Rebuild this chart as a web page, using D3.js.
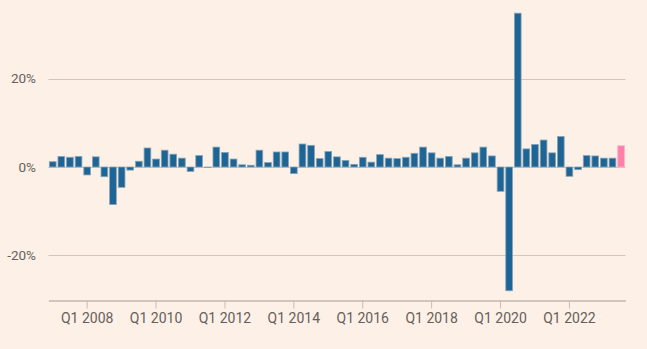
<!DOCTYPE html>
<html>
<head>
<meta charset="utf-8">
<script src="https://cdn.jsdelivr.net/npm/d3@7"></script>
<style>
  html, body { margin: 0; padding: 0; background: #fdf0e6; }
  svg { display: block; }
  text { font-family: Roboto, Lato, sans-serif; }
</style>
</head>
<body>
<svg id="chart" width="647" height="349"></svg>
<script>
// Quarterly real GDP growth, annualised (%), Q1 2007 – Q3 2023
const years = d3.range(2007, 2024);
const quarters = years.flatMap(y => [1, 2, 3, 4].map(q => `Q${q} ${y}`)).slice(0, 67);

const growth = [
  1.2, 2.4, 2.2, 2.4,      // 2007
  -1.8, 2.3, -2.2, -8.5,   // 2008
  -4.6, -0.7, 1.3, 4.3,    // 2009
  1.8, 3.8, 2.9, 2.0,      // 2010
  -1.0, 2.6, -0.1, 4.5,    // 2011
  3.3, 1.8, 0.5, 0.4,      // 2012
  3.8, 1.0, 3.4, 3.4,      // 2013
  -1.5, 5.2, 4.9, 1.9,     // 2014
  3.5, 2.3, 1.5, 0.6,      // 2015
  2.2, 1.1, 2.8, 2.0,      // 2016
  1.9, 2.2, 3.1, 4.5,      // 2017
  3.2, 2.0, 2.4, 0.5,      // 2018
  2.0, 3.2, 4.5, 2.5,      // 2019
  -5.5, -28.0, 34.8, 4.1,  // 2020
  5.1, 6.1, 3.2, 6.9,      // 2021
  -2.1, -0.6, 2.6, 2.5,    // 2022
  2.0, 2.0, 4.8            // 2023
];

const xTickLabels = ["Q1 2008", "Q1 2010", "Q1 2012", "Q1 2014", "Q1 2016", "Q1 2018", "Q1 2020", "Q1 2022"];
const yTicks = [-20, 0, 20];

const data = quarters.map((q, i) => ({ q, v: growth[i], latest: i === growth.length - 1 }));

const svg = d3.select("#chart");
const left = 48.4, right = 625.4;

const x = d3.scaleBand()
  .domain(quarters)
  .range([left, right])
  .paddingInner(0.22)
  .paddingOuter(0.11);

const y = d3.scaleLinear()
  .domain([-30, 35])
  .range([299.6, 12.3]);

// horizontal gridlines with labels
const grid = svg.append("g");
grid.selectAll("line")
  .data(yTicks)
  .join("line")
  .attr("x1", left)
  .attr("x2", right)
  .attr("y1", d => Math.round(y(d)) + 0.5)
  .attr("y2", d => Math.round(y(d)) + 0.5)
  .attr("stroke", "#d3c5ba")
  .attr("stroke-width", 1);

grid.selectAll("text")
  .data(yTicks)
  .join("text")
  .attr("x", 36)
  .attr("y", d => y(d))
  .attr("dy", "0.36em")
  .attr("text-anchor", "end")
  .attr("font-size", 13.5)
  .attr("fill", "#66605c")
  .text(d => `${d}%`);

// bars
svg.append("g")
  .selectAll("rect")
  .data(data)
  .join("rect")
  .attr("x", d => x(d.q))
  .attr("width", x.bandwidth())
  .attr("y", d => y(Math.max(0, d.v)))
  .attr("height", d => Math.abs(y(d.v) - y(0)))
  .attr("fill", d => d.latest ? "#ff7faa" : "#1e6595")
  .attr("stroke", d => d.latest ? "#ffb0c8" : "#86a5ba")
  .attr("stroke-width", 0.8);

// x axis
const xAxis = d3.axisBottom(x)
  .tickValues(xTickLabels)
  .tickSize(8)
  .tickSizeOuter(0)
  .tickPadding(5);

const gx = svg.append("g")
  .attr("transform", `translate(0,${300.5})`)
  .call(xAxis);
gx.select(".domain").attr("stroke", "#a39c96");
gx.selectAll(".tick line").attr("stroke", "#c9bdb3");
gx.selectAll(".tick text")
  .attr("font-size", 14)
  .attr("font-family", "Roboto, Lato, sans-serif")
  .attr("fill", "#66605c");
</script>
</body>
</html>
